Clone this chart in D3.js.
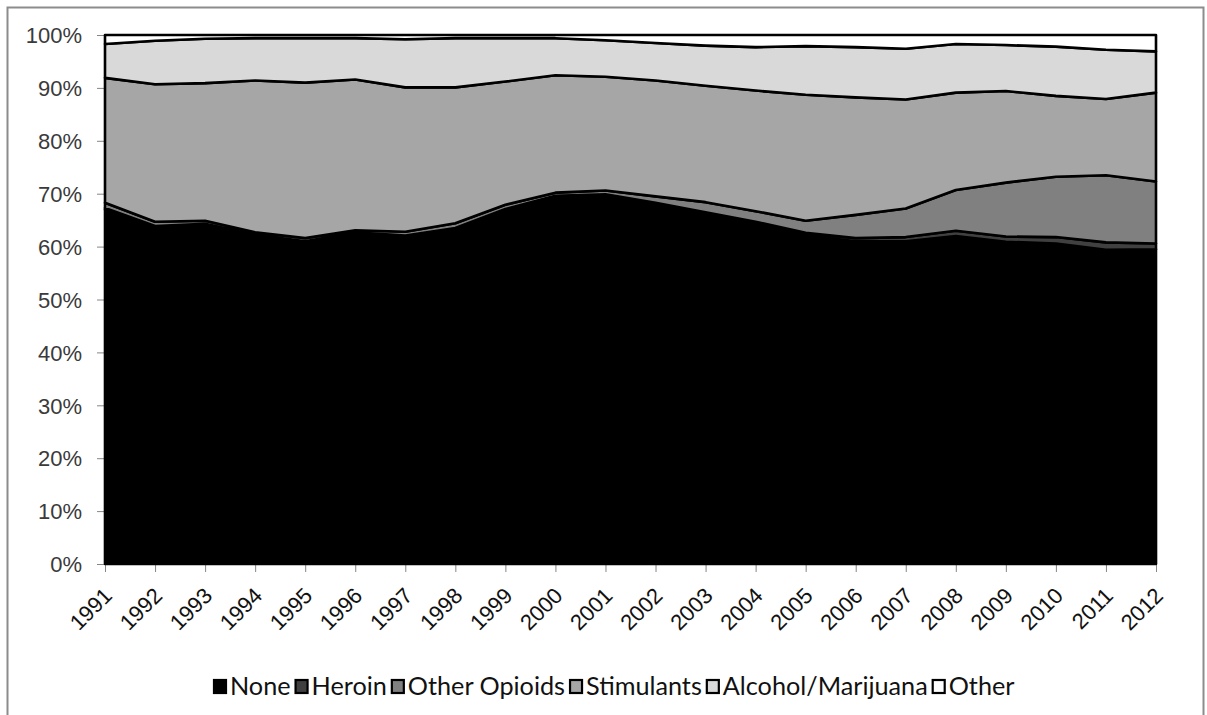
<!DOCTYPE html>
<html><head><meta charset="utf-8">
<script src="https://cdn.jsdelivr.net/npm/d3@7"></script>
<style>
body{margin:0;background:#fff;}
svg{display:block;font-family:Lato,"Open Sans",sans-serif;}
</style></head><body>
<svg id="c" width="1207" height="715"></svg>
<script>
const years = [1991,1992,1993,1994,1995,1996,1997,1998,1999,2000,2001,2002,2003,2004,2005,2006,2007,2008,2009,2010,2011,2012];
const seriesNames = ["None","Heroin","Other Opioids","Stimulants","Alcohol/Marijuana","Other"];
const none      = [67.0,63.6,64.0,62.0,60.7,62.4,61.8,63.2,66.8,69.3,69.6,68.0,66.2,64.3,62.2,61.0,61.0,62.0,60.9,60.6,59.4,59.5];
const heroin    = [0.3,0.3,0.3,0.3,0.3,0.3,0.3,0.3,0.3,0.3,0.3,0.3,0.3,0.4,0.4,0.6,0.8,1.0,1.0,1.2,1.4,1.1];
const opioids   = [1.0,0.8,0.6,0.4,0.6,0.4,0.7,0.9,0.8,0.6,0.7,1.2,1.9,2.0,2.3,4.4,5.4,7.7,10.2,11.4,12.7,11.7];
const stimulants= [23.6,26.0,26.0,28.7,29.4,28.5,27.3,25.7,23.3,22.2,21.5,21.9,22.0,22.8,23.8,22.2,20.6,18.4,17.3,15.3,14.4,16.8];
const alcohol   = [6.4,8.2,8.4,8.0,8.4,7.8,9.1,9.3,8.2,7.0,6.9,7.1,7.6,8.2,9.2,9.5,9.6,9.2,8.7,9.3,9.3,7.8];
const other     = [1.7,1.1,0.7,0.6,0.6,0.6,0.8,0.6,0.6,0.6,1.0,1.5,2.0,2.3,2.1,2.3,2.6,1.7,1.9,2.2,2.8,3.1];
const yTicks = [0,0.1,0.2,0.3,0.4,0.5,0.6,0.7,0.8,0.9,1.0];
const colors = ["#000000","#404040","#808080","#a6a6a6","#d9d9d9","#ffffff"];

const svg = d3.select("#c");
svg.append("rect").attr("x",7.5).attr("y",7.5).attr("width",1196).attr("height",720)
  .attr("fill","none").attr("stroke","#8c8c8c").attr("stroke-width",2);

const L=105, R=1156, T=35, B=564;
const x = d3.scalePoint().domain(years).range([L,R]);
const y = d3.scaleLinear().domain([0,1]).range([B,T]);

const vals = [none,heroin,opioids,stimulants,alcohol,other];
const table = years.map((yr,i)=>{const o={year:yr}; seriesNames.forEach((s,k)=>o[s]=vals[k][i]); return o;});
const layers = d3.stack().keys(seriesNames).offset(d3.stackOffsetExpand)(table);
const area = d3.area().x(d=>x(d.data.year)).y0(d=>y(d[0])).y1(d=>y(d[1]));

const yAxis = d3.axisLeft(y).tickValues(yTicks).tickFormat(d3.format(".0%")).tickSize(8);
const gy = svg.append("g").attr("transform",`translate(${L},0)`).call(yAxis);
gy.select(".domain").attr("stroke","#868686");
gy.selectAll(".tick line").attr("stroke","#868686");
gy.selectAll("text").attr("font-size",22).attr("fill","#3a3a3a").attr("x",-23).attr("dy","0.35em");

const xAxis = d3.axisBottom(x).tickSize(8).tickSizeOuter(0);
const gx = svg.append("g").attr("transform",`translate(0,${B})`).call(xAxis);
gx.select(".domain").attr("stroke","#868686");
gx.selectAll(".tick line").attr("stroke","#868686");
gx.selectAll("text").attr("font-size",22).attr("fill","#111")
  .attr("text-anchor","end").attr("dy",0).attr("y",0)
  .attr("transform","translate(8,33) rotate(-45)");

svg.append("g").selectAll("path").data(layers).join("path")
  .attr("d",area).attr("fill",(d,i)=>colors[i])
  .attr("stroke","#000").attr("stroke-width",2.6).attr("stroke-linejoin","round");

// legend
const legend = svg.append("g").attr("transform","translate(0,695)");
const items = seriesNames.map((s,i)=>({s,i}));
const lg = legend.selectAll("g").data(items).join("g");
lg.append("rect").attr("width",12).attr("height",13).attr("x",1).attr("y",-15)
  .attr("fill",d=>colors[d.i]).attr("stroke","#000").attr("stroke-width",2.2);
const lt = lg.append("text").attr("x",17).attr("y",0).attr("font-size",22).attr("fill","#111").text(d=>d.s);
// fit legend to reference span (213..1015)
let tw = 0; lt.each(function(){tw+=this.getComputedTextLength();});
const target = 802 - 6*17 - 5*4;
const fs = 22*target/tw;
lt.attr("font-size",fs);
const widths=[]; lt.each(function(){widths.push(17+this.getComputedTextLength());});
let pos = 213;
lg.attr("transform",(d,i)=>{const t=`translate(${pos},0)`; pos+=widths[i]+4; return t;});
</script>
</body></html>
